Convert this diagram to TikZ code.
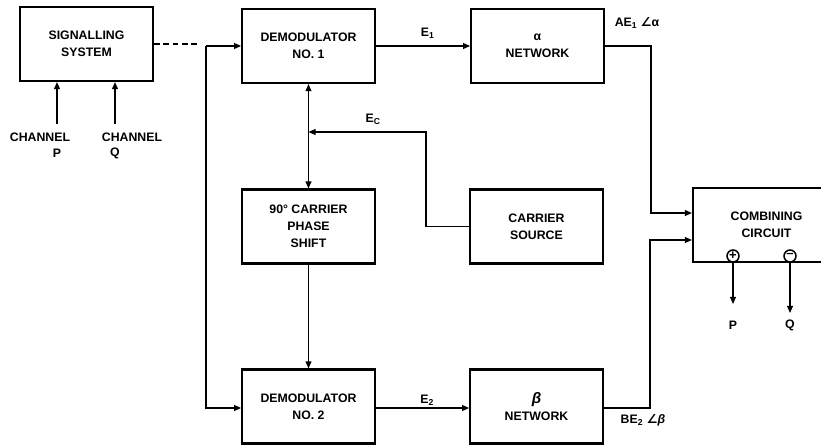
\documentclass[tikz,border=0pt]{standalone}
\usepackage{fontspec}
\setmainfont{Liberation Sans}
\newfontfamily\symfont{DejaVu Sans}
\usetikzlibrary{arrows.meta,calc}
\tikzset{
  blockbox/.style={draw,line width=1.8pt,minimum width=3.98cm,minimum height=2.22cm,
    align=center,inner sep=2pt,font=\fontsize{10.5}{14.5}\bfseries\selectfont},
  lbl/.style={font=\fontsize{10.5}{12}\bfseries\selectfont,inner sep=1pt},
  pmcircle/.style={draw,circle,line width=1.3pt,minimum size=0.36cm,inner sep=0pt,
    font=\fontsize{11}{11}\bfseries\selectfont},
  dashline/.style={dash pattern=on 5pt off 3pt},
}

\begin{document}
\begin{tikzpicture}[x=0.03cm,y=-0.03cm,line width=1.1pt,
  >={Triangle[length=6pt,width=5pt]}]

\useasboundingbox (0,0) rectangle (821,446);
\clip (0,0) rectangle (821,446);

\node[blockbox] (sig) at (86.5,44) {SIGNALLING\\SYSTEM};
\node[blockbox] (dem1) at (308.5,46) {DEMODULATOR\\NO. 1};
\node[blockbox] (alpha) at (537.5,46) {α\\NETWORK};
\node[blockbox] (phase) at (308.5,226.5) {90° CARRIER\\PHASE\\SHIFT};
\node[blockbox] (carr) at (536.5,226.5) {CARRIER\\SOURCE};
\node[blockbox] (dem2) at (308.5,406.5) {DEMODULATOR\\NO. 2};
\node[blockbox] (beta) at (536.5,406.5) {{\fontsize{13}{13}\selectfont\itshape β}\\NETWORK};
\node[blockbox,minimum width=4.41cm] (comb) at (766.5,225) {COMBINING\\CIRCUIT};
\node[pmcircle] (plus) at (733,256) {+};
\node[pmcircle] (minus) at (790,256) {\raisebox{0.6pt}{–}};

\node[lbl] (chp) at (40,137) {CHANNEL};
\node[lbl] (pin) at (57,153) {P};
\node[lbl] (chq) at (132,137) {CHANNEL};
\node[lbl] (qin) at (115,153) {Q};
\node[lbl] (pout) at (733,325) {P};
\node[lbl] (qout) at (790,325) {Q};

\coordinate (dashend) at (200,44);
\coordinate (bust) at (206,46);
\coordinate (busb) at (206,408);
\coordinate (ec) at (426,132);
\coordinate (aout) at (651,46);
\coordinate (bout) at (650,408);
\coordinate (pend) at (733,304);
\coordinate (qend) at (790,313);

\draw[->] (pin.north |- 0,124) -- (pin.north |- sig.south);
\draw[->] (qin.north |- 0,124) -- (qin.north |- sig.south);
\draw[dashline] (sig.east) -- (dashend);

\draw[->] (bust) -- (dem1.west);
\draw[->] (bust) -- (busb) -- (busb -| dem2.west);

\draw[<->] (dem1.south) -- (phase.north);
\draw[->] (carr.west) -| (ec) -- (ec -| dem1.south)
  node[lbl,pos=0.45,above=5pt] {E\textsubscript{C}};
\draw[->] (phase.south) -- (dem2.north);

\draw[->] (dem1.east) -- (alpha.west) node[lbl,pos=0.55,above=5pt] {E\textsubscript{1}};
\draw[->] (dem2.east |- 0,408) -- (beta.west |- 0,408)
  node[lbl,pos=0.55,above=1pt] {E\textsubscript{2}};

\draw[->] (alpha.east) -- (aout) |- (comb.west |- 0,213);
\draw[->] (beta.east |- bout) -- (bout) |- (comb.west |- 0,240);
\node[lbl] at (637,23) {AE\textsubscript{1} {\symfont ∠}α};
\node[lbl] at (643,420) {BE\textsubscript{2} {\symfont ∠}\textit{β}};

\draw[->] (plus.south) -- (pend);
\draw[->] (minus.south) -- (qend);

\end{tikzpicture}
\end{document}
